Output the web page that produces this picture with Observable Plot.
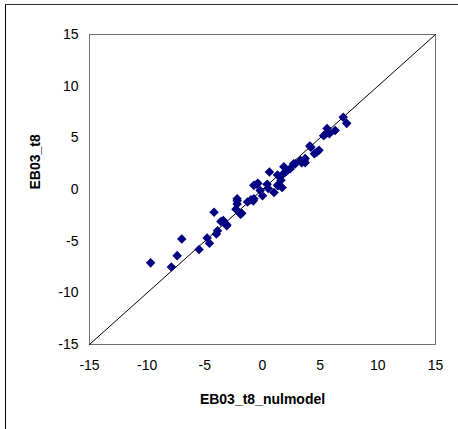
<!DOCTYPE html>
<html>
<head>
<meta charset="utf-8">
<script src="https://cdn.jsdelivr.net/npm/d3@7"></script>
<script src="https://cdn.jsdelivr.net/npm/@observablehq/plot@0.6"></script>
<style>
  html, body { margin: 0; padding: 0; background: #fff; }
  #wrap { position: relative; width: 458px; height: 429px; overflow: hidden; }
  #border { position: absolute; left: 5px; top: 4px; width: 470px; height: 440px;
            border-left: 1px solid #000; border-top: 1px solid #333; box-sizing: border-box; pointer-events: none; }
  svg { display: block; }
</style>
</head>
<body>
<div id="wrap"><div id="chart"></div><div id="border"></div></div>
<script>
const xLabel = "EB03_t8_nulmodel";
const yLabel = "EB03_t8";
const ticks = [-15, -10, -5, 0, 5, 10, 15];
const identityLine = [-15, 15];

const nulmodel = [-9.7, -7.9, -7.4, -7.0, -5.5, -4.8, -4.6, -4.2, -4.0, -3.9, -3.6, -3.4, -3.1, -3.1,
  -2.3, -2.2, -2.2, -2.2, -1.9, -1.8, -1.3, -1.0, -0.8, -0.75, -0.75, -0.5, -0.4, -0.2, 0.0, 0.4,
  0.6, 0.5, 1.0, 1.3, 1.4, 1.3, 1.6, 1.7, 1.7, 1.85, 2.0, 2.1, 2.4, 2.7, 2.85, 3.3, 3.4, 3.6, 3.7,
  3.7, 4.1, 4.2, 4.5, 4.7, 4.9, 5.3, 5.5, 5.6, 5.8, 6.3, 7.0, 7.3];
const t8 = [-7.1, -7.5, -6.4, -4.8, -5.8, -4.7, -5.2, -2.2, -4.3, -4.0, -3.1, -3.0, -3.4, -3.5,
  -1.9, -1.4, -0.9, -1.1, -2.4, -2.3, -1.2, -1.0, -1.1, -0.9, 0.4, 0.5, 0.6, -0.1, -0.6, 0.5,
  1.7, 0.1, -0.3, 0.4, 0.4, 1.4, 0.9, 0.2, 1.4, 2.2, 1.7, 1.8, 2.0, 2.5, 2.5, 2.8, 2.6, 2.8, 3.0,
  2.6, 4.2, 4.1, 3.45, 3.6, 3.8, 5.2, 5.4, 5.9, 5.4, 5.7, 7.0, 6.4];

const points = nulmodel.map((x, i) => ({x, y: t8[i]}));

const chart = Plot.plot({
  width: 458,
  height: 429,
  marginLeft: 89,
  marginRight: 23,
  marginTop: 34,
  marginBottom: 85,
  style: {fontFamily: "Arial, 'Liberation Sans', sans-serif", fontSize: "14px", color: "#000", background: "#fff"},
  x: {domain: [-15, 15], ticks: ticks, tickSize: 0, tickPadding: 16, label: null, tickFormat: d => d < 0 ? "-" + Math.abs(d) : String(d)},
  y: {domain: [-15, 15], ticks: ticks, tickSize: 0, tickPadding: 11, label: null, tickFormat: d => d < 0 ? "-" + Math.abs(d) : String(d)},
  marks: [
    Plot.frame({stroke: "#707070", strokeWidth: 1}),
    Plot.line(identityLine.map(v => ({x: v, y: v})), {x: "x", y: "y", stroke: "#000", strokeWidth: 1}),
    Plot.dot(points, {x: "x", y: "y", symbol: "diamond2", fill: "#000080", stroke: "none", r: 4.3}),
    Plot.text([xLabel], {frameAnchor: "bottom", dy: 55, lineAnchor: "middle", fontWeight: "bold", fontSize: 14, fill: "#000", letterSpacing: "0.6px"}),
    Plot.text([yLabel], {frameAnchor: "left", dx: -54, rotate: -90, lineAnchor: "middle", fontWeight: "bold", fontSize: 14, fill: "#000"})
  ]
});
document.getElementById("chart").appendChild(chart);
</script>
</body>
</html>
